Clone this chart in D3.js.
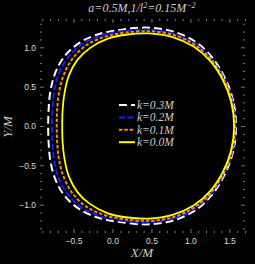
<!DOCTYPE html>
<meta charset="utf-8">
<head>
<style>
  body { margin: 0; background: #000; }
  .tick text { fill: #ddd; font-family: "Liberation Sans", Arial, sans-serif; font-size: 8.5px; }
  .tick line { stroke: #777; }
  .lab { fill: #ccc; font-family: "Liberation Serif", serif; font-style: italic; }
</style>
<title>shadow</title>
</head>
<script src="https://cdn.jsdelivr.net/npm/d3@7"></script>
<svg width="255" height="264" id="svg1"></svg>
<script>
// shadow outlines (X/M, Y/M), each one a closed loop
const k03 = [[1.585,0],[1.55,0.315],[1.44,0.615],[1.275,0.875],[1.065,1.07],[0.785,1.20],[0.46,1.25],[0.12,1.225],[-0.17,1.17],[-0.42,1.06],[-0.62,0.88],[-0.74,0.66],[-0.80,0.42],[-0.82,0.2],[-0.825,0],
             [-0.82,-0.2],[-0.80,-0.42],[-0.74,-0.66],[-0.62,-0.88],[-0.42,-1.06],[-0.17,-1.17],[0.12,-1.225],[0.46,-1.25],[0.785,-1.20],[1.065,-1.07],[1.275,-0.875],[1.44,-0.615],[1.55,-0.315]];
const k02 = [[1.575,0],[1.54,0.31],[1.43,0.605],[1.265,0.86],[1.055,1.05],[0.78,1.175],[0.46,1.225],[0.13,1.205],[-0.15,1.15],[-0.39,1.04],[-0.575,0.87],[-0.69,0.66],[-0.75,0.43],[-0.77,0.2],[-0.775,0],
             [-0.77,-0.2],[-0.75,-0.43],[-0.69,-0.66],[-0.575,-0.87],[-0.39,-1.04],[-0.15,-1.15],[0.13,-1.205],[0.46,-1.225],[0.78,-1.175],[1.055,-1.05],[1.265,-0.86],[1.43,-0.605],[1.54,-0.31]];
const k01 = [[1.57,0],[1.533,0.31],[1.423,0.60],[1.26,0.85],[1.05,1.035],[0.775,1.16],[0.46,1.205],[0.15,1.185],[-0.11,1.13],[-0.33,1.03],[-0.51,0.86],[-0.625,0.65],[-0.685,0.43],[-0.71,0.2],[-0.715,0],
             [-0.71,-0.2],[-0.685,-0.43],[-0.625,-0.65],[-0.51,-0.86],[-0.33,-1.03],[-0.11,-1.13],[0.15,-1.185],[0.46,-1.205],[0.775,-1.16],[1.05,-1.035],[1.26,-0.85],[1.423,-0.60],[1.533,-0.31]];
const k00 = [[1.56,0],[1.523,0.305],[1.413,0.589],[1.25,0.83],[1.04,1.01],[0.77,1.13],[0.46,1.177],[0.17,1.16],[-0.06,1.11],[-0.29,0.99],[-0.45,0.84],[-0.56,0.64],[-0.615,0.42],[-0.64,0.2],[-0.645,0],
             [-0.64,-0.2],[-0.615,-0.42],[-0.56,-0.64],[-0.45,-0.84],[-0.29,-0.99],[-0.06,-1.11],[0.17,-1.16],[0.46,-1.177],[0.77,-1.13],[1.04,-1.01],[1.25,-0.83],[1.413,-0.589],[1.523,-0.305]];

const curveNames = ["k=0.3M", "k=0.2M", "k=0.1M", "k=0.0M"];
const xMajor = [-0.5, 0, 0.5, 1.0, 1.5];
const yMajor = [-1.0, -0.5, 0, 0.5, 1.0];

const svg1 = d3.select('#svg1');
const fLeft = 40, fRight = 245, fTop = 19, fBottom = 233;

const x = d3.scaleLinear().domain([-0.93, 1.70]).range([fLeft, fRight]);
const y = d3.scaleLinear().domain([-1.36, 1.36]).range([fBottom, fTop]);

svg1.append('rect').attr('width', 255).attr('height', 264).attr('fill', '#000');

// minor ticks every 0.1
const xMinor = d3.range(-0.9, 1.71, 0.1).map(v => +v.toFixed(1)).filter(v => !xMajor.includes(v));
const yMinor = d3.range(-1.3, 1.31, 0.1).map(v => +v.toFixed(1)).filter(v => !yMajor.includes(v));
const fmt = d3.format(".1f");

const addAxis = (axis, tr) => {
  const g = svg1.append('g').attr('transform', tr).call(axis);
  g.select('.domain').remove();
  return g;
};

addAxis(d3.axisBottom(x).tickValues(xMajor).tickSize(-4).tickPadding(5).tickFormat(fmt), `translate(0,${fBottom})`);
addAxis(d3.axisBottom(x).tickValues(xMinor).tickSize(-2).tickFormat(''), `translate(0,${fBottom})`);
addAxis(d3.axisTop(x).tickValues(xMajor).tickSize(-4).tickFormat(''), `translate(0,${fTop})`);
addAxis(d3.axisTop(x).tickValues(xMinor).tickSize(-2).tickFormat(''), `translate(0,${fTop})`);
addAxis(d3.axisLeft(y).tickValues(yMajor).tickSize(-4).tickPadding(4).tickFormat(fmt), `translate(${fLeft},0)`);
addAxis(d3.axisLeft(y).tickValues(yMinor).tickSize(-2).tickFormat(''), `translate(${fLeft},0)`);
addAxis(d3.axisRight(y).tickValues(yMajor).tickSize(-4).tickFormat(''), `translate(${fRight},0)`);
addAxis(d3.axisRight(y).tickValues(yMinor).tickSize(-2).tickFormat(''), `translate(${fRight},0)`);

const line = d3.line().x(d => x(d[0])).y(d => y(d[1])).curve(d3.curveCatmullRomClosed.alpha(0.5));

const styles = [
  { data: k03, color: '#ffffff', dash: '8,4', w: 2 },
  { data: k02, color: '#1a1aff', dash: '6,2.5', w: 2 },
  { data: k01, color: '#f28a14', dash: '3.5,1.8', w: 2 },
  { data: k00, color: '#ffff00', dash: null, w: 1.8 }
];

styles.forEach(s => {
  svg1.append('path')
    .attr('d', line(s.data))
    .attr('fill', 'none')
    .attr('stroke', s.color)
    .attr('stroke-width', s.w)
    .attr('stroke-dasharray', s.dash);
});

// legend
const legend = svg1.selectAll('.legend')
  .data(styles)
  .enter().append('g')
  .attr('class', 'legend')
  .attr('transform', (d, i) => `translate(119,${105 + i * 12.4})`);

legend.append('line')
  .attr('x1', 0).attr('x2', 16)
  .attr('stroke', d => d.color)
  .attr('stroke-width', 2)
  .attr('stroke-dasharray', d => d.dash);

legend.append('text')
  .attr('class', 'lab')
  .attr('x', 18).attr('y', 4)
  .attr('font-size', '11.5px')
  .text((d, i) => curveNames[i]);

// title
const title = svg1.append('text')
  .attr('class', 'lab')
  .attr('x', 142).attr('y', 12)
  .attr('text-anchor', 'middle')
  .attr('font-size', '12px');
title.append('tspan').text('a=0.5M,1/l');
title.append('tspan').attr('dy', -4).attr('font-size', '8px').text('2');
title.append('tspan').attr('dy', 4).text('=0.15M');
title.append('tspan').attr('dy', -4).attr('font-size', '8px').text('\u22122');

svg1.append('text')
  .attr('class', 'lab')
  .attr('x', 142).attr('y', 257)
  .attr('text-anchor', 'middle')
  .attr('font-size', '13px')
  .text('X/M');

svg1.append('text')
  .attr('class', 'lab')
  .attr('transform', 'translate(12,127) rotate(-90)')
  .attr('text-anchor', 'middle')
  .attr('font-size', '13px')
  .text('Y/M');
</script>
